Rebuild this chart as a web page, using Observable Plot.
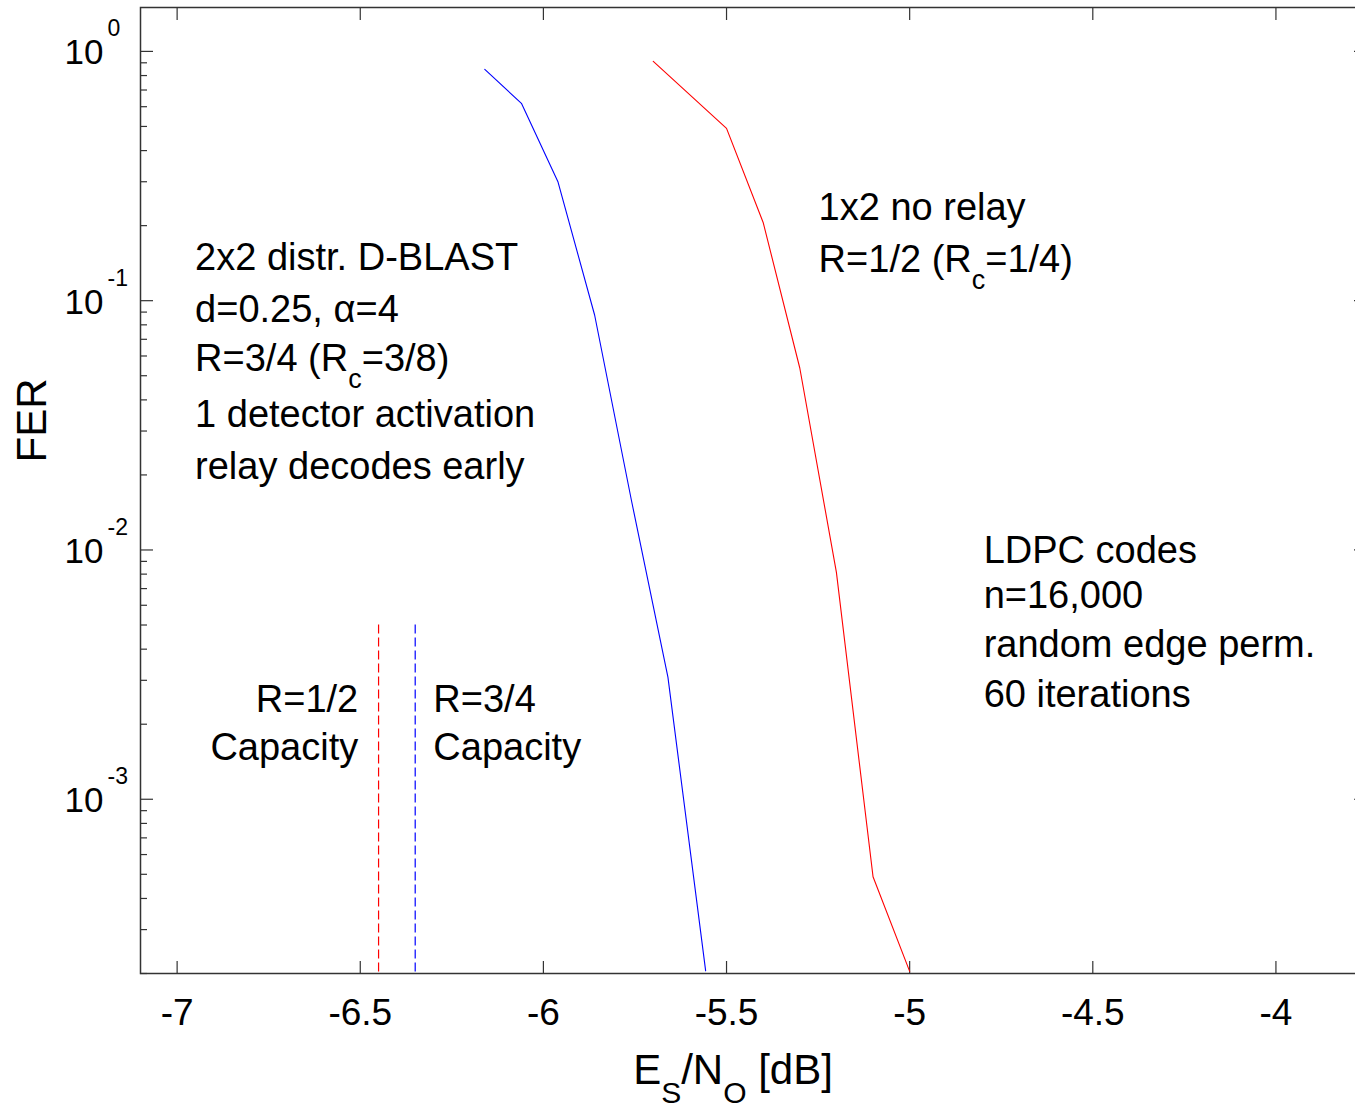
<!DOCTYPE html>
<html>
<head>
<meta charset="utf-8">
<script src="https://cdn.jsdelivr.net/npm/d3@7"></script>
<script src="https://cdn.jsdelivr.net/npm/@observablehq/plot@0.6"></script>
<style>
html, body { margin: 0; padding: 0; background: white; overflow: hidden; }
#chart svg { max-width: none !important; width: 1367px !important; height: 1107px !important; }
</style>
</head>
<body>
<div id="chart"></div>
<script>
// ---- data ----
const blueSNR = [-6.16, -6.06, -5.96, -5.86, -5.76, -5.66, -5.557];
const blueFER = [0.847, 0.619, 0.299, 0.0874, 0.0159, 0.00309, 0.000205];
const redSNR  = [-5.7, -5.5, -5.4, -5.3, -5.2, -5.1, -5.0];
const redFER  = [0.912, 0.491, 0.206, 0.0537, 0.00813, 0.000489, 0.000204];

const capacityR12 = -6.45;
const capacityR34 = -6.35;
const capacityTop = 0.005;

const xTicks = [-7, -6.5, -6, -5.5, -5, -4.5, -4];
const xTickLabels = ["-7", "-6.5", "-6", "-5.5", "-5", "-4.5", "-4"];
const yMajor = [1, 0.1, 0.01, 0.001];
const yMantissa = ["10", "10", "10", "10"];
const yExponent = ["0", "-1", "-2", "-3"];
const yMinor = [];
for (const k of [-4, -3, -2, -1]) for (let m = 2; m <= 9; m++) {
  const v = +(m * Math.pow(10, k)).toPrecision(6);
  if (v >= 2e-4 && v <= 1.5) yMinor.push(v);
}

const dblastLines = ["2x2 distr. D-BLAST", "d=0.25, α=4", "R=3/4 (R_{c}=3/8)", "1 detector activation", "relay decodes early"];
const dblastFER = [0.1322, 0.0825, 0.0520, 0.0312, 0.0193];
const dblastSNR = -6.951;

const noRelayLines = ["1x2 no relay", "R=1/2 (R_{c}=1/4)"];
const noRelayFER = [0.2104, 0.1302];
const noRelaySNR = -5.2486;

const ldpcLines = ["LDPC codes", "n=16,000", "random edge perm.", "60 iterations"];
const ldpcFER = [0.008898, 0.005875, 0.003705, 0.002336];
const ldpcSNR = -4.798;

const cap12Lines = ["R=1/2", "Capacity"];
const cap34Lines = ["R=3/4", "Capacity"];
const capFER = [0.002231, 0.001433];
const cap12SNR = -6.5055;
const cap34SNR = -6.3005;

// ---- tables ----
const blue = blueSNR.map((x, i) => ({x, y: blueFER[i]}));
const red = redSNR.map((x, i) => ({x, y: redFER[i]}));
const block = (lines, fer, snr) => lines.map((t, i) => ({x: snr, y: fer[i], t}));

const W = 1367, H = 1107, ML = 140, MT = 7, MB = 134, MR = 0;
const FW = W - ML - MR, FH = H - MT - MB;
const FONT = "Liberation Sans, Arial, Helvetica, sans-serif";
const TC = "#333";

const txt = (data, opts) => Plot.text(data, {x: "x", y: "y", text: "t", fontFamily: FONT, fontSize: 38,
  fill: "black", lineAnchor: "bottom", textAnchor: "start", ...opts});

const svg = Plot.plot({
  width: W, height: H,
  marginLeft: ML, marginTop: MT, marginBottom: MB, marginRight: MR,
  style: {fontFamily: FONT, background: "white", overflow: "visible", maxWidth: "none"},
  x: {domain: [-7.1, -3.75], axis: null},
  y: {type: "log", domain: [2e-4, 1.5], axis: null},
  marks: [
    // ticks (inward)
    Plot.ruleX(xTicks, {x: d => d, insetTop: FH - 12, stroke: TC, strokeWidth: 1.2}),
    Plot.ruleX(xTicks, {x: d => d, insetBottom: FH - 13, stroke: TC, strokeWidth: 1.2}),
    Plot.ruleY(yMajor, {y: d => d, insetRight: FW - 13, stroke: TC, strokeWidth: 1.2}),
    Plot.ruleY(yMinor, {y: d => d, insetRight: FW - 7, stroke: TC, strokeWidth: 1.2}),
    Plot.ruleY(yMajor, {y: d => d, insetLeft: FW - 13, stroke: TC, strokeWidth: 1.2}),
    Plot.ruleY(yMinor, {y: d => d, insetLeft: FW - 7, stroke: TC, strokeWidth: 1.2}),
    // capacity lines
    Plot.ruleX([capacityR12], {x: d => d, y1: capacityTop, y2: 2e-4, stroke: "#ff0000", strokeWidth: 1.2, strokeDasharray: "9,4"}),
    Plot.ruleX([capacityR34], {x: d => d, y1: capacityTop, y2: 2e-4, stroke: "#0000ff", strokeWidth: 1.2, strokeDasharray: "9,4"}),
    // curves
    Plot.line(blue, {x: "x", y: "y", stroke: "#0000ff", strokeWidth: 1.1}),
    Plot.line(red, {x: "x", y: "y", stroke: "#ff0000", strokeWidth: 1.1}),
    // tick labels
    Plot.text(xTicks, {x: d => d, text: (d, i) => xTickLabels[i], frameAnchor: "bottom", dy: 51,
      lineAnchor: "bottom", textAnchor: "middle", fontFamily: FONT, fontSize: 37, fill: "black"}),
    Plot.text(yMajor, {y: d => d, text: (d, i) => yMantissa[i], frameAnchor: "left", dx: -76, dy: 13,
      lineAnchor: "bottom", textAnchor: "start", fontFamily: FONT, fontSize: 35, fill: "black"}),
    Plot.text(yMajor, {y: d => d, text: (d, i) => yExponent[i], frameAnchor: "left", dx: -33, dy: -15,
      lineAnchor: "bottom", textAnchor: "start", fontFamily: FONT, fontSize: 23, fill: "black"}),
    // axis labels
    Plot.text(["E_{S}/N_{O} [dB]"], {frameAnchor: "bottom", dx: -21, dy: 110, lineAnchor: "bottom",
      textAnchor: "middle", fontFamily: FONT, fontSize: 42, fill: "black"}),
    Plot.text(["FER"], {frameAnchor: "left", rotate: -90, dx: -95, dy: -70, lineAnchor: "bottom",
      textAnchor: "middle", fontFamily: FONT, fontSize: 42, fill: "black"}),
    // annotations
    txt(block(dblastLines, dblastFER, dblastSNR)),
    txt(block(noRelayLines, noRelayFER, noRelaySNR)),
    txt(block(ldpcLines, ldpcFER, ldpcSNR)),
    txt(block(cap12Lines, capFER, cap12SNR), {textAnchor: "end"}),
    txt(block(cap34Lines, capFER, cap34SNR)),
    Plot.frame({stroke: TC, strokeWidth: 1.5})
  ]
});

// turn _{..} into subscripts (real text via tspans)
svg.querySelectorAll("text").forEach(t => {
  const s = t.textContent;
  if (!/_\{/.test(s)) return;
  const holder = t.closest("[font-size]");
  const base = holder ? parseFloat(holder.getAttribute("font-size")) : 37;
  const shift = Math.round(base * 0.46);
  const parts = s.split(/(_\{[^}]*\})/).filter(p => p.length);
  while (t.firstChild) t.removeChild(t.firstChild);
  let down = false;
  for (const p of parts) {
    const ts = document.createElementNS("http://www.w3.org/2000/svg", "tspan");
    if (p.startsWith("_{")) {
      ts.textContent = p.slice(2, -1);
      ts.setAttribute("font-size", Math.round(base * 0.72));
      ts.setAttribute("dy", shift);
      down = true;
    } else {
      ts.textContent = p;
      if (down) { ts.setAttribute("dy", -shift); down = false; }
    }
    t.appendChild(ts);
  }
});

document.getElementById("chart").appendChild(svg);
</script>
</body>
</html>
